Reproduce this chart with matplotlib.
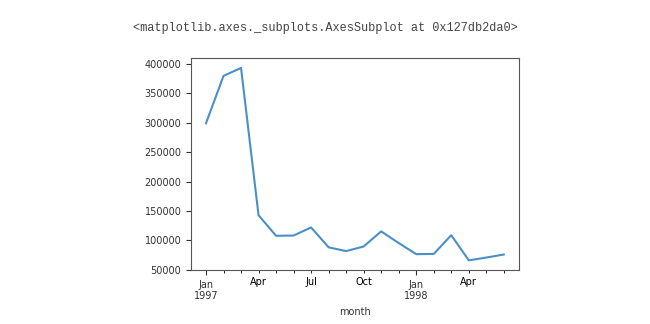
import pandas as pd
import matplotlib
matplotlib.use('Agg')
import matplotlib.pyplot as plt

# Monthly order amount, Jan 1997 - Jun 1998
months = pd.period_range('1997-01', periods=18, freq='M')
amounts = [299060, 379590, 393155, 142824, 107933, 108396,
           122079, 88368, 81949, 89781, 115449, 95577,
           76757, 77097, 108970, 66232, 70990, 76109]

plt.rcParams['font.size'] = 7

fig = plt.figure(figsize=(6.5, 3.24), dpi=100)
ax = fig.add_axes([0.294, 0.167, 0.504, 0.654])

s = pd.Series(amounts, index=pd.PeriodIndex(months, name='month'))
s.plot(ax=ax, color='#4a90c8', linewidth=1.5)

# pandas pins the x range to the data; add the usual 5% padding back
left, right = ax.get_xlim()
pad = 0.05 * (right - left)
ax.set_xlim(left - pad, right + pad)
ax.set_ylim(50000, 410000)

ax.set_xlabel('month', color='#333333')
ax.tick_params(colors='#333333', labelcolor='#333333')
for sp in ax.spines.values():
    sp.set_color('#555555')

fig.text(0.5, 0.914, '<matplotlib.axes._subplots.AxesSubplot at 0x127db2da0>',
         ha='center', va='center', family='Liberation Mono', fontsize=8.6,
         color='#444444')

fig.savefig('out.png', dpi=100)
